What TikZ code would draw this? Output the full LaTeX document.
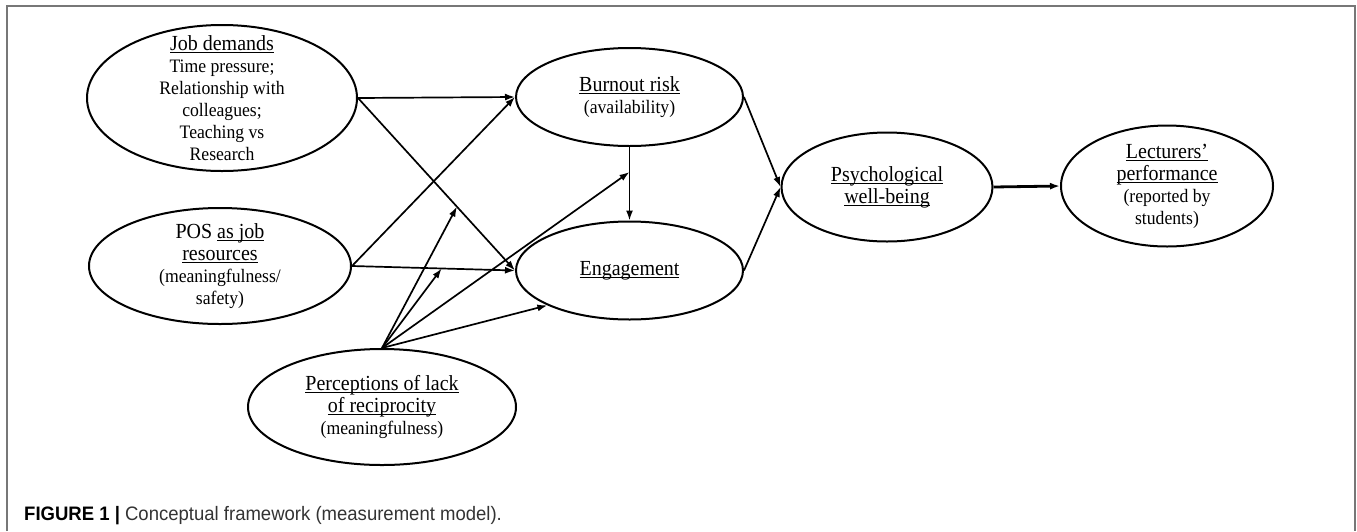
\documentclass[tikz,border=0pt]{standalone}
\usepackage{fontspec}
\usetikzlibrary{shapes.geometric,arrows.meta}

\setmainfont{Liberation Serif}[FakeStretch=0.93]
\newfontfamily\legende{Liberation Sans}[FakeStretch=0.95]
\newsavebox{\boitesoul}
\newcommand{\souligne}[1]{\sbox{\boitesoul}{#1}%
  \rlap{\rule[-2.8pt]{\wd\boitesoul}{1.2pt}}\usebox{\boitesoul}}
\newcommand{\titre}[1]{{\fontsize{21.5}{22}\selectfont #1}}

\definecolor{cadre}{HTML}{777777}
\definecolor{gristexte}{HTML}{333333}

\tikzset{ovale/.style 2 args = {ellipse, draw, line width = 2pt,
                                minimum width = #1, minimum height = #2,
                                inner sep = 0pt},
         texte/.style = {align = center, inner sep = 0pt,
                         font = \fontsize{19}{22}\selectfont},
         fleche/.style = {-{Latex[length=10pt,width=7pt]}, line width = 1.7pt}
        }

\begin{document}
\begin{tikzpicture}[x=1pt, y=1pt]
  \useasboundingbox (0, 0) rectangle (1357, -531);
  \draw[color = cadre, line width = 1.5] (7, -531) |- (1355, -6) -- (1355, -531);

  % ellipses
  \node[ovale = {270pt}{146pt}] (jobdem) at (222, -98) {};
  \node[ovale = {262pt}{116pt}] (posres) at (220, -266) {};
  \node[ovale = {268pt}{116pt}] (recip) at (382, -407) {};
  \node[ovale = {227pt}{98pt}] (burnout) at (629.5, -97) {};
  \node[ovale = {227pt}{98pt}] (engage) at (629.5, -270.5) {};
  \node[ovale = {211pt}{109pt}] (psych) at (887, -187) {};
  \node[ovale = {212pt}{121pt}] (lect) at (1167, -186) {};

  % textes
  \node[texte] (jobdem-t) at (jobdem) {\titre{\souligne{Job demands}}\\ Time pressure;\\
    Relationship with\\ colleagues;\\ Teaching vs\\ Research};
  \node[texte] (posres-t) at (posres) {\titre{POS \souligne{as job}}\\ \titre{\souligne{resources}}\\
    (meaningfulness/\\ safety)};
  \node[texte] (recip-t) at (recip) {\titre{\souligne{Perceptions of lack}}\\
    \titre{\souligne{of reciprocity}}\\ (meaningfulness)};
  \node[texte] (burnout-t) at (burnout) {\titre{\souligne{Burnout risk}}\\ (availability)};
  \node[texte] (engage-t) at (engage) {\titre{\souligne{Engagement}}};
  \node[texte] (psych-t) at (psych) {\titre{\souligne{Psychological}}\\ \titre{\souligne{well-being}}};
  \node[texte] (lect-t) at (lect) {\titre{\souligne{Lecturers’}}\\ \titre{\souligne{performance}}\\
    (reported by\\ students)};

  % points sur les fleches
  \path (jobdem.east) -- (engage.west) coordinate[pos = 0.63] (mod1);
  \path (posres.east) -- (engage.west) coordinate[pos = 0.55] (mod2);
  \path (burnout.south) -- (engage.north) coordinate[pos = 0.34] (mod3);

  \draw[fleche] (jobdem.east) -- (burnout.west);
  \draw[fleche] (jobdem.east) -- (engage.west);
  \draw[fleche] (posres.east) -- (burnout.west);
  \draw[fleche] (posres.east) -- (engage.west);
  \draw[fleche] (burnout.south) -- (engage.north);
  \draw[fleche] (recip.north) -- (mod1);
  \draw[fleche] (recip.north) -- (mod2);
  \draw[fleche] (recip.north) -- (mod3);
  \draw[fleche] (recip.north) -- (engage.203);
  \draw[fleche] (burnout.east) -- (psych.west);
  \draw[fleche] (engage.east) -- (psych.west);
  \draw[fleche, line width = 2.8] (psych.east) -- (lect.west);

  % legende
  \node[anchor = base west, inner sep = 0pt, text = gristexte,
        font = \legende\fontsize{19.5}{22}\selectfont] (titre) at (24, -520)
    {\textcolor{black}{\textbf{FIGURE 1 |}} Conceptual framework (measurement model).};
\end{tikzpicture}
\end{document}
